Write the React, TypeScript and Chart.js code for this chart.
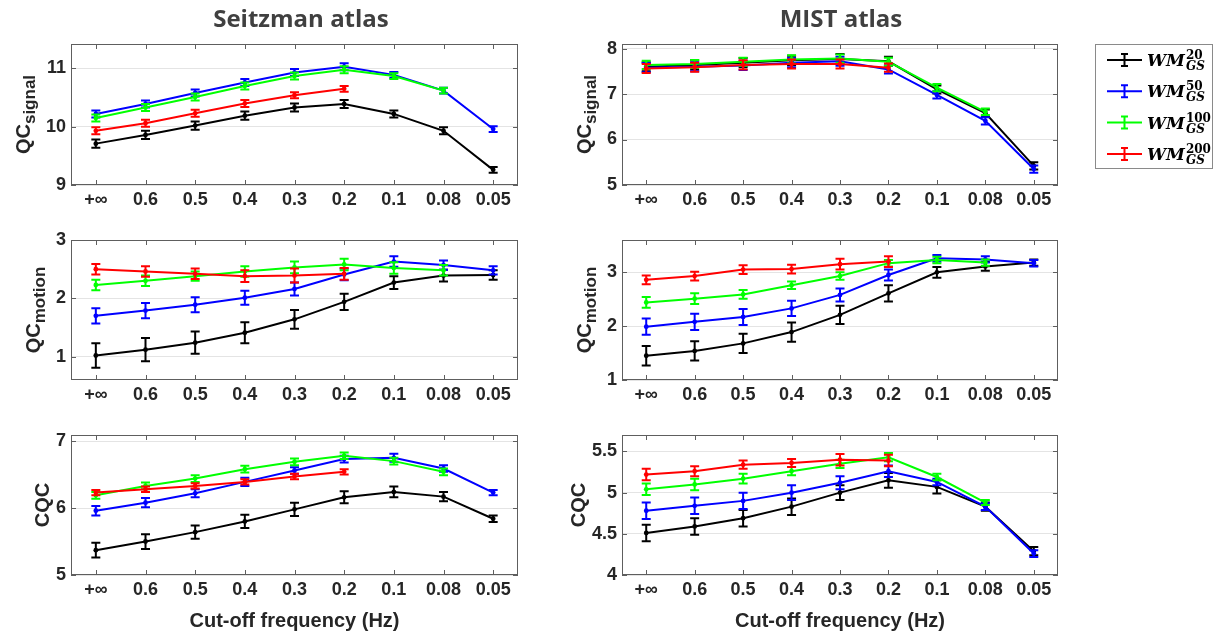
import React, { useEffect, useRef } from "react";
import { Chart, registerables } from "chart.js";

Chart.register(...registerables);

// ---- data ----
const cutoffs = ["+∞", "0.6", "0.5", "0.4", "0.3", "0.2", "0.1", "0.08", "0.05"];
const thresholds = ["20", "50", "100", "200"];
const seriesColors = ["#000000", "#0000ff", "#00ff00", "#ff0000"];

// Seitzman atlas — QC signal (rows: WM 20, 50, 100, 200)
const seitzmanSignalMean = [
  [9.71, 9.86, 10.02, 10.19, 10.33, 10.39, 10.22, 9.93, 9.26],
  [10.22, 10.39, 10.58, 10.76, 10.93, 11.03, 10.89, 10.62, 9.96],
  [10.15, 10.33, 10.51, 10.7, 10.87, 10.98, 10.87, 10.62, null],
  [9.93, 10.06, 10.23, 10.4, 10.54, 10.65, null, null, null],
];
const seitzmanSignalErr = [
  [0.07, 0.07, 0.07, 0.07, 0.07, 0.07, 0.06, 0.06, 0.05],
  [0.06, 0.06, 0.06, 0.06, 0.06, 0.06, 0.05, 0.05, 0.05],
  [0.06, 0.06, 0.06, 0.06, 0.06, 0.06, 0.05, 0.05],
  [0.06, 0.06, 0.06, 0.06, 0.05, 0.05],
];
const seitzmanSignalTicks = [9, 10, 11];

// MIST atlas — QC signal
const mistSignalMean = [
  [7.6, 7.64, 7.69, 7.74, 7.77, 7.72, 7.1, 6.58, 5.42],
  [7.58, 7.6, 7.63, 7.69, 7.72, 7.54, 6.98, 6.41, 5.35],
  [7.64, 7.66, 7.71, 7.76, 7.78, 7.71, 7.14, 6.61, null],
  [7.56, 7.59, 7.64, 7.66, 7.66, 7.58, null, null, null],
];
const mistSignalErr = [
  [0.1, 0.1, 0.1, 0.1, 0.11, 0.1, 0.09, 0.08, 0.08],
  [0.1, 0.1, 0.1, 0.1, 0.1, 0.09, 0.08, 0.08, 0.08],
  [0.09, 0.09, 0.09, 0.09, 0.09, 0.09, 0.08, 0.07],
  [0.1, 0.1, 0.1, 0.1, 0.1, 0.09],
];
const mistSignalTicks = [5, 6, 7, 8];

// Seitzman atlas — QC motion
const seitzmanMotionMean = [
  [1.02, 1.12, 1.24, 1.41, 1.64, 1.94, 2.27, 2.39, 2.4],
  [1.7, 1.79, 1.89, 2.01, 2.16, 2.41, 2.63, 2.57, 2.48],
  [2.23, 2.3, 2.38, 2.46, 2.53, 2.58, 2.52, 2.48, null],
  [2.5, 2.46, 2.42, 2.38, 2.39, 2.42, null, null, null],
];
const seitzmanMotionErr = [
  [0.21, 0.2, 0.19, 0.18, 0.16, 0.14, 0.11, 0.1, 0.08],
  [0.13, 0.13, 0.13, 0.12, 0.11, 0.1, 0.09, 0.08, 0.07],
  [0.09, 0.09, 0.08, 0.09, 0.1, 0.1, 0.1, 0.09],
  [0.09, 0.09, 0.09, 0.1, 0.12, 0.1],
];
const seitzmanMotionTicks = [1, 2, 3];

// MIST atlas — QC motion
const mistMotionMean = [
  [1.45, 1.54, 1.68, 1.89, 2.21, 2.61, 3.0, 3.11, 3.18],
  [1.99, 2.08, 2.17, 2.33, 2.58, 2.95, 3.26, 3.24, 3.17],
  [2.44, 2.51, 2.59, 2.76, 2.93, 3.17, 3.23, 3.18, null],
  [2.86, 2.93, 3.05, 3.06, 3.15, 3.2, null, null, null],
];
const mistMotionErr = [
  [0.18, 0.18, 0.18, 0.18, 0.17, 0.15, 0.1, 0.08, 0.06],
  [0.15, 0.15, 0.15, 0.14, 0.12, 0.1, 0.06, 0.06, 0.06],
  [0.1, 0.1, 0.08, 0.07, 0.07, 0.06, 0.06, 0.06],
  [0.08, 0.08, 0.08, 0.08, 0.1, 0.1],
];
const mistMotionTicks = [1, 2, 3];

// Seitzman atlas — CQC
const seitzmanCqcMean = [
  [5.37, 5.5, 5.64, 5.8, 5.98, 6.16, 6.24, 6.17, 5.84],
  [5.96, 6.08, 6.22, 6.39, 6.56, 6.73, 6.75, 6.59, 6.23],
  [6.19, 6.33, 6.44, 6.58, 6.69, 6.78, 6.7, 6.54, null],
  [6.23, 6.28, 6.33, 6.39, 6.47, 6.54, null, null, null],
];
const seitzmanCqcErr = [
  [0.11, 0.11, 0.1, 0.1, 0.1, 0.09, 0.08, 0.07, 0.05],
  [0.07, 0.07, 0.06, 0.06, 0.05, 0.05, 0.06, 0.05, 0.04],
  [0.05, 0.05, 0.05, 0.05, 0.05, 0.05, 0.05, 0.05],
  [0.04, 0.04, 0.04, 0.04, 0.04, 0.04],
];
const seitzmanCqcTicks = [5, 6, 7];

// MIST atlas — CQC
const mistCqcMean = [
  [4.51, 4.59, 4.69, 4.83, 5.0, 5.15, 5.07, 4.83, 4.29],
  [4.78, 4.84, 4.9, 5.0, 5.12, 5.26, 5.13, 4.83, 4.26],
  [5.04, 5.1, 5.17, 5.26, 5.35, 5.43, 5.19, 4.88, null],
  [5.22, 5.26, 5.34, 5.36, 5.4, 5.39, null, null, null],
];
const mistCqcErr = [
  [0.1, 0.1, 0.1, 0.1, 0.09, 0.09, 0.08, 0.05, 0.05],
  [0.1, 0.1, 0.1, 0.09, 0.08, 0.07, 0.04, 0.04, 0.04],
  [0.07, 0.07, 0.06, 0.05, 0.05, 0.05, 0.04, 0.03],
  [0.07, 0.06, 0.05, 0.05, 0.07, 0.07],
];
const mistCqcTicks = [4, 4.5, 5, 5.5];

// ---- styling ----
const SANS = '"Liberation Sans", Arial, sans-serif';
const TEXT_COLOR = "#262626";
const TICK_FONT = `bold 18px ${SANS}`;

type Pad = { left: number; top: number; right: number; bottom: number };
type PanelSpec = {
  left: number;
  top: number;
  width: number;
  height: number;
  pad: Pad;
  means: (number | null)[][];
  errs: number[][];
  yMin: number;
  yMax: number;
  yTicks: number[];
  yTitle: string;
  ySub: string;
  heading?: string;
  headingX?: number;
  xTitle?: string;
  xTitleY?: number;
  legend?: boolean;
};

const LEFT_COL = { left: 0, width: 535, padLeft: 26, padRight: 17 };
const RIGHT_COL = { left: 535, width: 679, padLeft: 42, padRight: 156 };

const panels: PanelSpec[] = [
  {
    left: LEFT_COL.left, top: 0, width: LEFT_COL.width, height: 220,
    pad: { left: LEFT_COL.padLeft, top: 44, right: LEFT_COL.padRight, bottom: 5 },
    means: seitzmanSignalMean, errs: seitzmanSignalErr,
    yMin: 9, yMax: 11.42, yTicks: seitzmanSignalTicks,
    yTitle: "QC", ySub: "signal",
    heading: "Seitzman atlas", headingX: 301,
  },
  {
    left: RIGHT_COL.left, top: 0, width: RIGHT_COL.width, height: 220,
    pad: { left: RIGHT_COL.padLeft, top: 44, right: RIGHT_COL.padRight, bottom: 5 },
    means: mistSignalMean, errs: mistSignalErr,
    yMin: 5, yMax: 8.1, yTicks: mistSignalTicks,
    yTitle: "QC", ySub: "signal",
    heading: "MIST atlas", headingX: 306,
    legend: true,
  },
  {
    left: LEFT_COL.left, top: 220, width: LEFT_COL.width, height: 195,
    pad: { left: LEFT_COL.padLeft, top: 20, right: LEFT_COL.padRight, bottom: 5 },
    means: seitzmanMotionMean, errs: seitzmanMotionErr,
    yMin: 0.6, yMax: 3, yTicks: seitzmanMotionTicks,
    yTitle: "QC", ySub: "motion",
  },
  {
    left: RIGHT_COL.left, top: 220, width: RIGHT_COL.width, height: 195,
    pad: { left: RIGHT_COL.padLeft, top: 20, right: RIGHT_COL.padRight, bottom: 5 },
    means: mistMotionMean, errs: mistMotionErr,
    yMin: 1, yMax: 3.6, yTicks: mistMotionTicks,
    yTitle: "QC", ySub: "motion",
  },
  {
    left: LEFT_COL.left, top: 415, width: LEFT_COL.width, height: 222,
    pad: { left: LEFT_COL.padLeft, top: 20, right: LEFT_COL.padRight, bottom: 32 },
    means: seitzmanCqcMean, errs: seitzmanCqcErr,
    yMin: 5, yMax: 7.09, yTicks: seitzmanCqcTicks,
    yTitle: "CQC", ySub: "",
    xTitle: "Cut-off frequency (Hz)", xTitleY: 212,
  },
  {
    left: RIGHT_COL.left, top: 415, width: RIGHT_COL.width, height: 222,
    pad: { left: RIGHT_COL.padLeft, top: 20, right: RIGHT_COL.padRight, bottom: 32 },
    means: mistCqcMean, errs: mistCqcErr,
    yMin: 4, yMax: 5.7, yTicks: mistCqcTicks,
    yTitle: "CQC", ySub: "",
    xTitle: "Cut-off frequency (Hz)", xTitleY: 212,
  },
];

function decorPlugin(spec: PanelSpec) {
  return {
    id: "panelDecor",
    // error bars, drawn right after each series so stacking follows series order
    afterDatasetDraw(chart: any, args: any) {
      const i = args.index;
      const ctx = chart.ctx;
      const yScale = chart.scales.y;
      const errs = spec.errs[i] || [];
      ctx.save();
      ctx.strokeStyle = seriesColors[i];
      ctx.lineWidth = 2;
      args.meta.data.forEach((pt: any, j: number) => {
        const m = spec.means[i][j];
        const e = errs[j];
        if (m == null || e == null) return;
        const yt = yScale.getPixelForValue(m + e);
        const yb = yScale.getPixelForValue(m - e);
        const cap = 4.5;
        ctx.beginPath();
        ctx.moveTo(pt.x, yt);
        ctx.lineTo(pt.x, yb);
        ctx.moveTo(pt.x - cap, yt);
        ctx.lineTo(pt.x + cap, yt);
        ctx.moveTo(pt.x - cap, yb);
        ctx.lineTo(pt.x + cap, yb);
        ctx.stroke();
      });
      ctx.restore();
    },
    afterDraw(chart: any) {
      const ctx = chart.ctx;
      const { left, right, top, bottom } = chart.chartArea;
      const xs = chart.scales.x;
      const ys = chart.scales.y;
      ctx.save();

      // axes box with inward tick marks
      ctx.strokeStyle = "#5e5e5e";
      ctx.lineWidth = 1;
      ctx.strokeRect(Math.round(left) + 0.5, Math.round(top) + 0.5, Math.round(right - left) - 1, Math.round(bottom - top) - 1);
      ctx.beginPath();
      xs.ticks.forEach((_: any, k: number) => {
        const px = Math.round(xs.getPixelForTick(k)) + 0.5;
        ctx.moveTo(px, bottom);
        ctx.lineTo(px, bottom - 5);
        ctx.moveTo(px, top);
        ctx.lineTo(px, top + 5);
      });
      spec.yTicks.forEach((v) => {
        const py = Math.round(ys.getPixelForValue(v)) + 0.5;
        ctx.moveTo(left, py);
        ctx.lineTo(left + 5, py);
        ctx.moveTo(right, py);
        ctx.lineTo(right - 5, py);
      });
      ctx.stroke();

      // y-axis title with optional subscript
      ctx.font = TICK_FONT;
      const maxW = Math.max(...ys.ticks.map((t: any) => ctx.measureText(String(t.label)).width));
      const labelLeft = left - 5 - maxW;
      const baseX = labelLeft - (spec.ySub ? 16 : 7);
      const mainFont = `bold 20px ${SANS}`;
      const subFont = `bold 17px ${SANS}`;
      ctx.font = mainFont;
      const wm = ctx.measureText(spec.yTitle).width;
      ctx.font = subFont;
      const wsub = spec.ySub ? ctx.measureText(spec.ySub).width : 0;
      const total = wm + wsub;
      ctx.save();
      ctx.translate(baseX, (top + bottom) / 2);
      ctx.rotate(-Math.PI / 2);
      ctx.fillStyle = TEXT_COLOR;
      ctx.textAlign = "left";
      ctx.textBaseline = "alphabetic";
      ctx.font = mainFont;
      ctx.fillText(spec.yTitle, -total / 2, 0);
      if (spec.ySub) {
        ctx.font = subFont;
        ctx.fillText(spec.ySub, -total / 2 + wm, 5);
      }
      ctx.restore();

      // x-axis title
      if (spec.xTitle) {
        ctx.fillStyle = TEXT_COLOR;
        ctx.font = `bold 20px ${SANS}`;
        ctx.textAlign = "center";
        ctx.textBaseline = "alphabetic";
        ctx.fillText(spec.xTitle, (left + right) / 2, spec.xTitleY || 0);
      }

      // column heading
      if (spec.heading) {
        ctx.fillStyle = "#404040";
        ctx.font = `bold 24px "Open Sans", sans-serif`;
        ctx.textAlign = "center";
        ctx.textBaseline = "alphabetic";
        ctx.fillText(spec.heading, spec.headingX || 0, 27);
      }

      // legend
      if (spec.legend) {
        const bx = 560;
        const by = 44;
        const bw = 117;
        const bh = 124;
        ctx.strokeStyle = "#8a8a8a";
        ctx.lineWidth = 1;
        ctx.strokeRect(bx + 0.5, by + 0.5, bw, bh);
        chart.data.datasets.forEach((ds: any, k: number) => {
          const ry = 60 + k * 31.3;
          const c = ds.borderColor;
          ctx.strokeStyle = c;
          ctx.lineWidth = 2;
          ctx.beginPath();
          ctx.moveTo(572, ry);
          ctx.lineTo(607, ry);
          const mx = 589.5;
          ctx.moveTo(mx, ry - 6);
          ctx.lineTo(mx, ry + 6);
          ctx.moveTo(mx - 3.5, ry - 6);
          ctx.lineTo(mx + 3.5, ry - 6);
          ctx.moveTo(mx - 3.5, ry + 6);
          ctx.lineTo(mx + 3.5, ry + 6);
          ctx.stroke();
          ctx.fillStyle = "#000";
          ctx.textAlign = "left";
          ctx.textBaseline = "alphabetic";
          ctx.font = `italic bold 17px "DejaVu Serif", serif`;
          ctx.fillText("WM", 612, ry + 6);
          const w = ctx.measureText("WM").width;
          ctx.font = `bold 12px "DejaVu Serif", serif`;
          ctx.fillText(thresholds[k], 612 + w + 1, ry - 1);
          ctx.font = `italic bold 12px "DejaVu Serif", serif`;
          ctx.fillText("GS", 612 + w + 1, ry + 10);
        });
      }
      ctx.restore();
    },
  };
}

function Panel({ spec }: { spec: PanelSpec }) {
  const ref = useRef<HTMLCanvasElement | null>(null);
  useEffect(() => {
    if (!ref.current) return;
    const datasets = spec.means.map((row, i) => ({
      label: `WM_GS^${thresholds[i]}`,
      data: row,
      borderColor: seriesColors[i],
      backgroundColor: seriesColors[i],
      pointBackgroundColor: seriesColors[i],
      borderWidth: 2,
      pointRadius: 2.4,
      pointBorderWidth: 0,
      pointHoverRadius: 0,
      tension: 0,
      spanGaps: false,
      order: spec.means.length - 1 - i,
    }));
    const chart = new Chart(ref.current, {
      type: "line",
      data: { labels: cutoffs, datasets },
      options: {
        responsive: false,
        animation: false,
        devicePixelRatio: 1,
        events: [],
        layout: { padding: spec.pad },
        plugins: { legend: { display: false }, tooltip: { enabled: false }, title: { display: false } },
        scales: {
          x: {
            type: "category",
            offset: true,
            grid: { display: false, drawTicks: false },
            border: { display: false },
            ticks: {
              font: { family: SANS, size: 18, weight: "bold" },
              color: TEXT_COLOR,
              padding: 4,
              maxRotation: 0,
              minRotation: 0,
              autoSkip: false,
            },
            afterFit: (s: any) => {
              s.height = 30;
              s.paddingLeft = 0;
              s.paddingRight = 0;
            },
          },
          y: {
            type: "linear",
            min: spec.yMin,
            max: spec.yMax,
            grid: { color: "#e4e4e4", lineWidth: 1, drawTicks: false },
            border: { display: false },
            ticks: {
              font: { family: SANS, size: 18, weight: "bold" },
              color: TEXT_COLOR,
              padding: 5,
              callback: (v: any) => String(v),
            },
            afterBuildTicks: (s: any) => {
              s.ticks = spec.yTicks.map((v) => ({ value: v }));
            },
            afterFit: (s: any) => {
              s.width = 45;
              s.paddingTop = 0;
              s.paddingBottom = 0;
            },
          },
        },
      } as any,
      plugins: [decorPlugin(spec)],
    });
    return () => chart.destroy();
  }, [spec]);
  return (
    <canvas
      ref={ref}
      width={spec.width}
      height={spec.height}
      style={{ position: "absolute", left: spec.left, top: spec.top, width: spec.width, height: spec.height }}
    />
  );
}

export default function App() {
  return (
    <div
      style={{
        position: "fixed",
        left: 0,
        top: 0,
        width: 1214,
        height: 637,
        background: "#ffffff",
        overflow: "hidden",
      }}
    >
      {panels.map((p, i) => (
        <Panel key={i} spec={p} />
      ))}
    </div>
  );
}
